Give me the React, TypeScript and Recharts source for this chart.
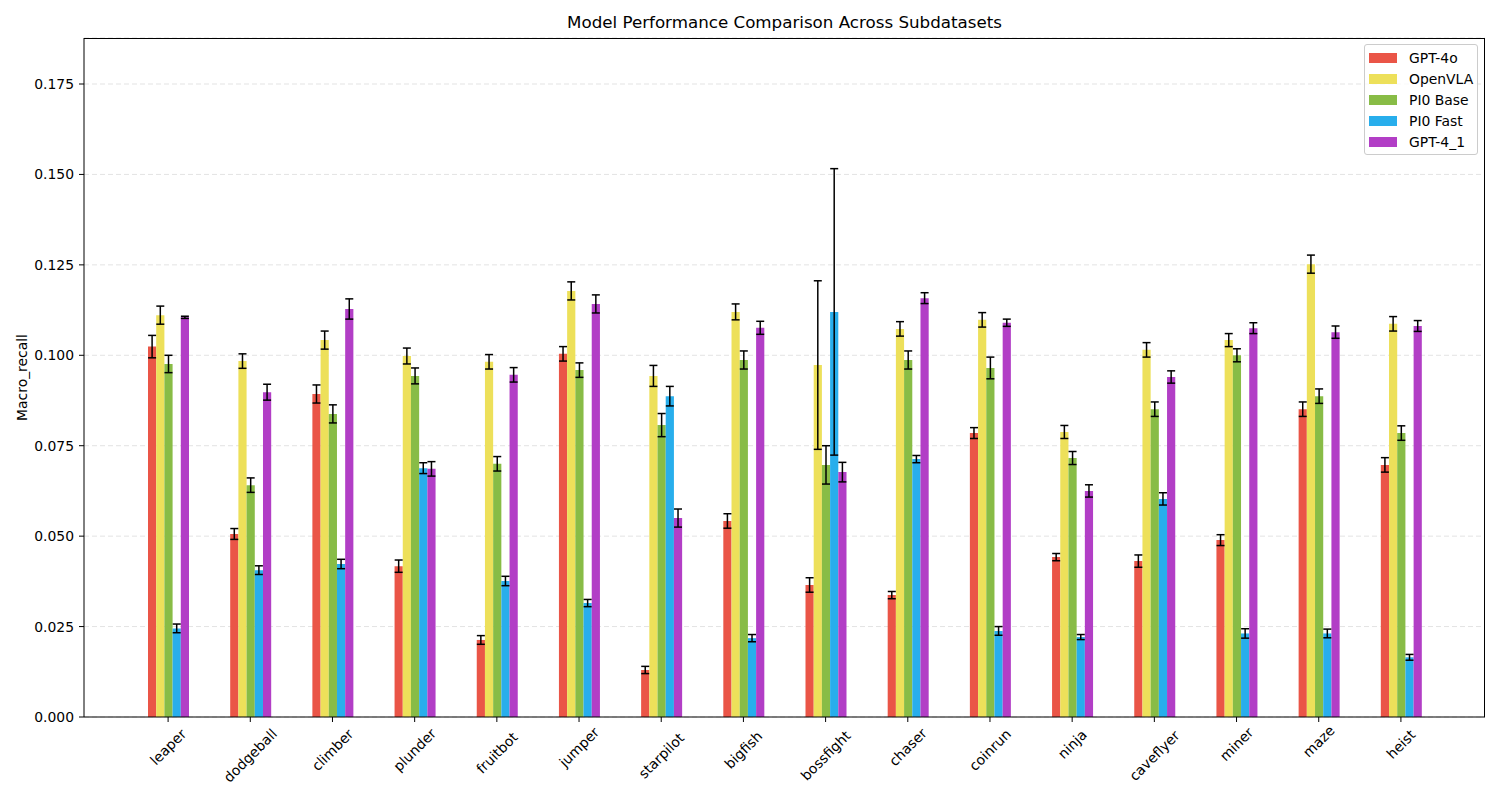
import React from 'react';
import {
  BarChart,
  Bar,
  XAxis,
  YAxis,
  CartesianGrid,
  ErrorBar,
} from 'recharts';

// subdatasets on the x axis
const categories = [
  'leaper', 'dodgeball', 'climber', 'plunder', 'fruitbot', 'jumper', 'starpilot', 'bigfish',
  'bossfight', 'chaser', 'coinrun', 'ninja', 'caveflyer', 'miner', 'maze', 'heist',
];

const gpt4o = [0.1024, 0.0506, 0.0893, 0.0417, 0.0213, 0.1004, 0.013, 0.0542, 0.0365, 0.0337, 0.0785, 0.0442, 0.0431, 0.0489, 0.0851, 0.0697];
const gpt4oErr = [0.0031, 0.0015, 0.0025, 0.0017, 0.0012, 0.002, 0.001, 0.002, 0.002, 0.001, 0.0015, 0.001, 0.0017, 0.0015, 0.002, 0.002];

const openvla = [0.1111, 0.0984, 0.1042, 0.0998, 0.0982, 0.1178, 0.0943, 0.112, 0.0973, 0.1073, 0.1098, 0.0788, 0.1015, 0.1042, 0.1252, 0.1087];
const openvlaErr = [0.0025, 0.002, 0.0025, 0.0022, 0.002, 0.0025, 0.0029, 0.0022, 0.0233, 0.002, 0.002, 0.0018, 0.002, 0.0018, 0.0025, 0.002];

const pi0Base = [0.0976, 0.0641, 0.0838, 0.0943, 0.07, 0.0959, 0.0807, 0.0987, 0.0697, 0.0987, 0.0965, 0.0716, 0.0851, 0.1, 0.0887, 0.0785];
const pi0BaseErr = [0.0024, 0.002, 0.0025, 0.0022, 0.002, 0.002, 0.0032, 0.0025, 0.0053, 0.0025, 0.003, 0.0018, 0.002, 0.0018, 0.002, 0.002];

const pi0Fast = [0.0245, 0.0406, 0.0423, 0.0688, 0.0376, 0.0315, 0.0887, 0.0218, 0.112, 0.0713, 0.0238, 0.0221, 0.0603, 0.0231, 0.0231, 0.0165];
const pi0FastErr = [0.0012, 0.0012, 0.0013, 0.0015, 0.0013, 0.001, 0.0027, 0.001, 0.0396, 0.001, 0.0012, 0.0007, 0.0017, 0.0013, 0.0012, 0.0008];

const gpt41 = [0.1105, 0.0898, 0.1128, 0.0686, 0.0946, 0.1142, 0.055, 0.1076, 0.0677, 0.1158, 0.109, 0.0625, 0.094, 0.1075, 0.1064, 0.1081];
const gpt41Err = [0.0003, 0.0022, 0.0028, 0.002, 0.002, 0.0025, 0.0025, 0.0018, 0.0027, 0.0015, 0.001, 0.0017, 0.0017, 0.0015, 0.0017, 0.0015];

const yTicks = [0, 0.025, 0.05, 0.075, 0.1, 0.125, 0.15, 0.175];

const series = [
  { key: 'gpt4o', name: 'GPT-4o', color: '#EA5547' },
  { key: 'openvla', name: 'OpenVLA', color: '#EDE05A' },
  { key: 'pi0Base', name: 'PI0 Base', color: '#88BC46' },
  { key: 'pi0Fast', name: 'PI0 Fast', color: '#28AEEC' },
  { key: 'gpt41', name: 'GPT-4_1', color: '#B23EC6' },
];

const data = categories.map((name, i) => ({
  name,
  gpt4o: gpt4o[i],
  gpt4oErr: gpt4oErr[i],
  openvla: openvla[i],
  openvlaErr: openvlaErr[i],
  pi0Base: pi0Base[i],
  pi0BaseErr: pi0BaseErr[i],
  pi0Fast: pi0Fast[i],
  pi0FastErr: pi0FastErr[i],
  gpt41: gpt41[i],
  gpt41Err: gpt41Err[i],
}));

const FONT = '"DejaVu Sans", sans-serif';
const FS = 13.9;

// plot box (matplotlib axes) in page pixels
const PLOT = { left: 84, top: 38, right: 1485, bottom: 717 };

// rotated 45deg tick, bbox centred under the tick like matplotlib ha='center'
const XTick = (props: any) => {
  const { x, y, payload } = props;
  const label = String(payload.value);
  const w = label.length * FS * 0.58;
  const half = ((w + FS) * 0.7071) / 2;
  const cy = y + half;
  return (
    <text
      x={x}
      y={cy}
      textAnchor="middle"
      dominantBaseline="central"
      transform={`rotate(-45, ${x}, ${cy})`}
      fontSize={FS}
      fontFamily={FONT}
      fill="#000"
    >
      {label}
    </text>
  );
};

export default function App() {
  return (
    <div style={{ position: 'absolute', top: 0, left: 0, width: 1500, height: 800, background: '#fff' }}>
      <div
        style={{
          position: 'absolute',
          top: 12,
          left: PLOT.left,
          width: PLOT.right - PLOT.left,
          textAlign: 'center',
          fontFamily: FONT,
          fontSize: 16.7,
          color: '#000',
        }}
      >
        Model Performance Comparison Across Subdatasets
      </div>
      <BarChart
        width={1500}
        height={800}
        data={data}
        margin={{ top: PLOT.top, right: 1500 - PLOT.right, bottom: 13, left: 24 }}
        barGap={0}
      >
        <CartesianGrid vertical={false} stroke="#e3e3e3" strokeDasharray="5 3" />
        <XAxis
          dataKey="name"
          interval={0}
          height={70}
          padding={{ left: 43, right: 43 }}
          tick={<XTick />}
          tickSize={5}
          tickMargin={3}
          axisLine={{ stroke: '#000' }}
          tickLine={{ stroke: '#000' }}
        />
        <YAxis
          width={60}
          domain={[0, 0.18772]}
          ticks={yTicks}
          allowDataOverflow
          tickFormatter={(v: number) => v.toFixed(3)}
          tickSize={5}
          tickMargin={5}
          tick={{ fill: '#000', fontSize: FS, fontFamily: FONT }}
          axisLine={{ stroke: '#000' }}
          tickLine={{ stroke: '#000' }}
          label={{
            content: ({ viewBox }: any) => {
              const cy = viewBox.y + viewBox.height / 2;
              return (
                <text
                  x={22}
                  y={cy}
                  textAnchor="middle"
                  dominantBaseline="central"
                  transform={`rotate(-90, 22, ${cy})`}
                  fontSize={FS}
                  fontFamily={FONT}
                  fill="#000"
                >
                  Macro_recall
                </text>
              );
            },
          }}
        />
        {series.map((s) => (
          <Bar key={s.key} dataKey={s.key} name={s.name} fill={s.color} barSize={8.2} isAnimationActive={false}>
            <ErrorBar dataKey={`${s.key}Err`} width={4} stroke="#000" strokeWidth={1.5} direction="y" />
          </Bar>
        ))}
      </BarChart>
      {/* axes frame (top and right spines) */}
      <div
        style={{
          position: 'absolute',
          left: PLOT.left,
          top: PLOT.top,
          width: PLOT.right - PLOT.left,
          height: PLOT.bottom - PLOT.top,
          boxSizing: 'border-box',
          borderTop: '1px solid #000',
          borderRight: '1px solid #000',
          pointerEvents: 'none',
        }}
      />
      {/* legend */}
      <div
        style={{
          position: 'absolute',
          left: 1364,
          top: 44,
          width: 112,
          height: 105,
          padding: '2px 0',
          border: '1px solid #cccccc',
          borderRadius: 3,
          background: 'rgba(255,255,255,0.8)',
          fontFamily: FONT,
          fontSize: FS,
          color: '#000',
        }}
      >
        {series.map((s) => (
          <div key={s.key} style={{ height: 21, display: 'flex', alignItems: 'center' }}>
            <span style={{ display: 'inline-block', width: 28, height: 10, background: s.color, marginLeft: 4, marginRight: 12 }} />
            <span>{s.name}</span>
          </div>
        ))}
      </div>
    </div>
  );
}
